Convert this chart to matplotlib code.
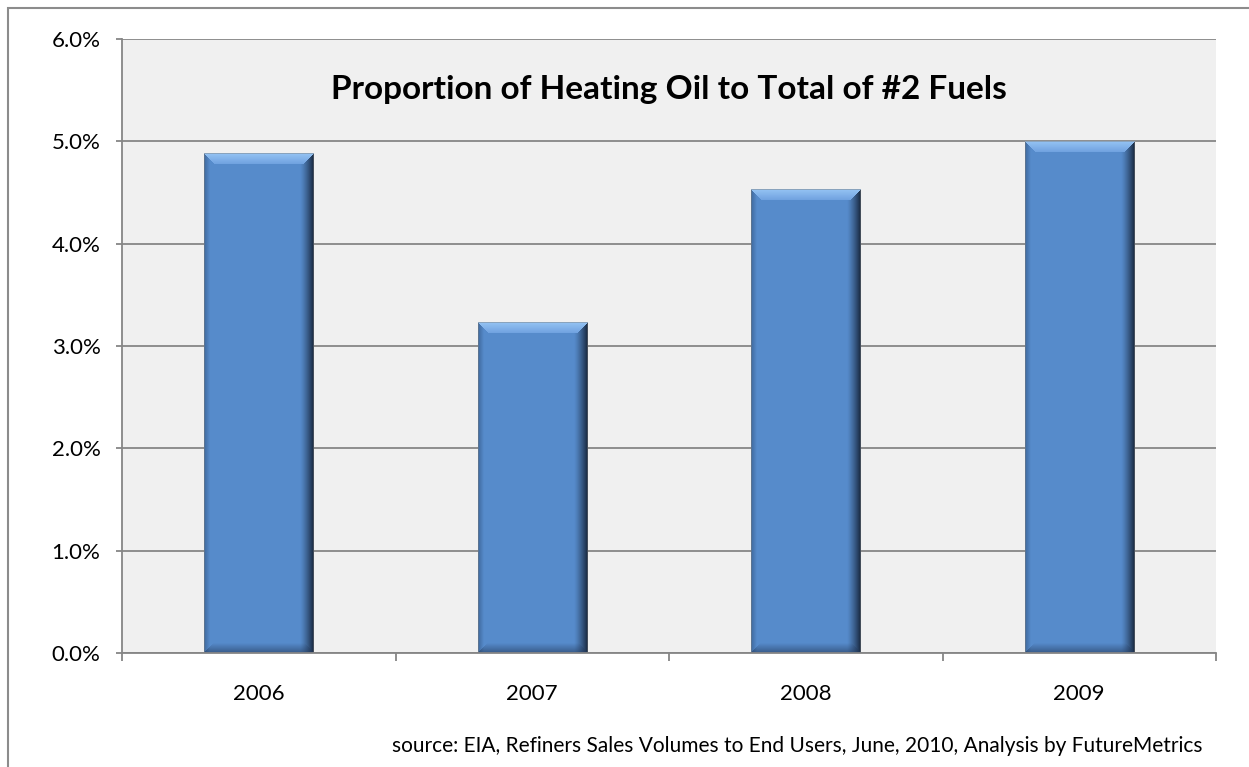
import numpy as np
import matplotlib
matplotlib.use('Agg')
import matplotlib.pyplot as plt
from matplotlib.patches import Rectangle
from matplotlib.ticker import FuncFormatter

years = ['2006', '2007', '2008', '2009']
share = [4.88, 3.23, 4.53, 5.00]  # percent
y_ticks = [0, 1, 2, 3, 4, 5, 6]

title = 'Proportion of Heating Oil to Total of #2 Fuels'
source = 'source: EIA, Refiners Sales Volumes to End Users, June, 2010, Analysis by FutureMetrics'

plt.rcParams['font.family'] = ['Lato', 'DejaVu Sans']

W, H = 1249, 767
fig = plt.figure(figsize=(W / 100, H / 100), dpi=100)
fig.patch.set_facecolor('white')

# outer chart border (right/bottom edges fall outside the picture)
fig.patches.append(Rectangle((7.5 / W, -0.05), 1.2, 1 - 7.5 / H + 0.05, transform=fig.transFigure,
                             fill=False, edgecolor='#8c8c8c', linewidth=1.5))

ax = fig.add_axes([122 / W, 1 - 653 / H, (1216 - 122) / W, (653 - 39) / H])
ax.set_facecolor('#f0f0f0')

x = np.arange(len(years))
bar_w = 0.4
bars = ax.bar(x, share, width=bar_w, color='#568bcb', zorder=3)

ax.set_xlim(-0.5, len(years) - 0.5)
ax.set_ylim(0, 6)
ax.set_yticks(y_ticks)
ax.yaxis.set_major_formatter(FuncFormatter(lambda v, p: f'{v:.1f}%'))
ax.set_xticks(x)
ax.set_xticklabels(years)
ax.set_xticks(np.arange(len(years) + 1) - 0.5, minor=True)
ax.tick_params(axis='x', which='major', length=0, pad=22, labelsize=16)
ax.tick_params(axis='x', which='minor', length=5.5, color='#868686', width=1.3)
ax.tick_params(axis='y', length=4.5, color='#868686', width=1.3, labelsize=16, pad=11)
ax.grid(axis='y', color='#868686', linewidth=1.3, zorder=1)
for s in ['top', 'right']:
    ax.spines[s].set_visible(False)
for s in ['left', 'bottom']:
    ax.spines[s].set_color('#868686')
    ax.spines[s].set_linewidth(1.3)
    ax.spines[s].set_zorder(4)

# bevelled look on each bar
fig.canvas.draw()
px_per_x = ax.bbox.width / 4.0
px_per_y = ax.bbox.height / 6.0
base = np.array([86, 139, 203]) / 255
for b in bars:
    wpx = int(round(b.get_width() * px_per_x))
    hpx = int(round(b.get_height() * px_per_y))
    jj, ii = np.meshgrid(np.arange(wpx), np.arange(hpx))
    dl = jj + 0.5
    dr = wpx - jj - 0.5
    dt = ii + 0.5
    db = hpx - ii - 0.5
    img = np.ones((hpx, wpx, 3)) * base
    # right edge: darkening gradient
    t = np.clip(1 - dr / 14.0, 0, 1) ** 1.3
    dark = np.array([22, 36, 58]) / 255
    img = img * (1 - t[..., None]) + dark * t[..., None]
    # left edge: slight darkening
    t = np.clip(1 - dl / 6.0, 0, 1)
    img = img * (1 - 0.5 * t[..., None]) + np.array([40, 70, 110]) / 255 * 0.5 * t[..., None]
    # bottom bevel
    t = np.clip(1 - db / 10.0, 0, 1)[..., None] * 0.6
    bot = ((db <= dl) & (db <= dr))[..., None]
    img = np.where(bot, img * (1 - t) + np.array([35, 58, 92]) / 255 * t, img)
    # top bevel (trapezoid, light)
    bev = 11.0
    top = (dt < bev) & (dt <= dl) & (dt <= dr)
    g = (dt / bev)[..., None]
    light = np.array([150, 196, 244]) / 255 * (1 - g) + np.array([112, 162, 224]) / 255 * g
    img = np.where(top[..., None], light, img)
    # thin outline
    edge = (dl < 1) | (dr < 1) | (dt < 1)
    img[edge] = img[edge] * 0.55 + np.array([125, 125, 125]) / 255 * 0.45
    x0 = b.get_x()
    ax.imshow(img, extent=(x0, x0 + b.get_width(), 0, b.get_height()), aspect='auto',
              origin='upper', zorder=3.5, interpolation='nearest')
ax.set_xlim(-0.5, len(years) - 0.5)
ax.set_ylim(0, 6)

ax.text(0.5, (653 - 99) / 614, title, transform=ax.transAxes, ha='center', va='baseline',
        fontsize=24, fontweight='bold', color='black', zorder=5)
fig.text(1203 / W, 1 - 746 / H, source, ha='right', va='center', fontsize=15, color='black')

fig.savefig('out.png', dpi=100)
